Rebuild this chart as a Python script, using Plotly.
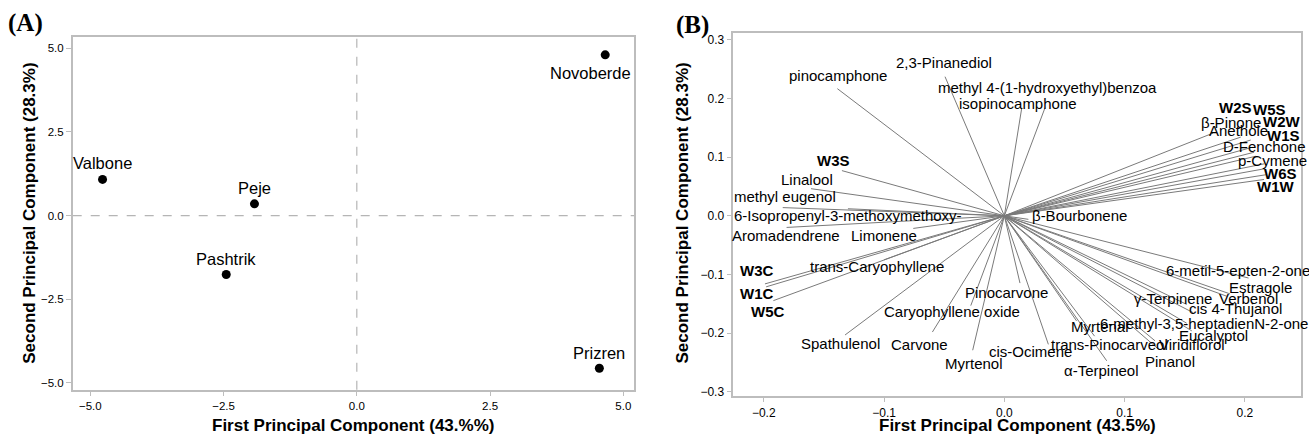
import plotly.graph_objects as go

# ---------------- data ----------------
# Panel A: site scores
sites = ["Novoberde", "Valbone", "Peje", "Pashtrik", "Prizren"]
pc1_scores = [4.66, -4.77, -1.92, -2.45, 4.55]
pc2_scores = [4.80, 1.08, 0.35, -1.76, -4.56]

# Panel B: variable loadings
variables = [
    "pinocamphone", "2,3-Pinanediol", "methyl 4-(1-hydroxyethyl)benzoa", "isopinocamphone",
    "W3S", "Linalool", "methyl eugenol", "6-Isopropenyl-3-methoxymethoxy-",
    "Aromadendrene", "Limonene", "trans-Caryophyllene", "W3C", "W1C", "W5C",
    "Spathulenol", "Carvone", "Caryophyllene oxide", "Myrtenol", "Pinocarvone",
    "cis-Ocimene", "Myrtenal", "trans-Pinocarveol", "α-Terpineol", "Pinanol",
    "Viridiflorol", "Eucalyptol", "6-methyl-3,5-heptadienN-2-one", "cis 4-Thujanol",
    "γ-Terpinene", "Verbenol", "Estragole", "6-metil-5-epten-2-one", "β-Bourbonene",
    "β-Pinone", "Anethole", "W2S", "W5S", "W2W", "W1S", "D-Fenchone", "p-Cymene",
    "W6S", "W1W",
]
pc1_loadings = [
    -0.1388, -0.0493, 0.0338, 0.0145,
    -0.135, -0.1607, -0.1842, -0.130,
    -0.181, -0.0757, -0.100, -0.199, -0.198, -0.192,
    -0.1324, -0.0598, -0.0279, -0.0263, 0.013,
    0.0366, 0.060, 0.075, 0.0851, 0.128,
    0.1253, 0.1558, 0.1516, 0.157,
    0.1516, 0.1849, 0.1876, 0.203, 0.020,
    0.1735, 0.1965, 0.2048, 0.2062, 0.2076, 0.2090, 0.2159, 0.2159,
    0.2173, 0.2159,
]
pc2_loadings = [
    0.2166, 0.237, 0.184, 0.184,
    0.077, 0.0462, 0.014, 0.012,
    -0.0198, -0.0215, -0.075, -0.116, -0.121, -0.1445,
    -0.203, -0.198, -0.153, -0.229, -0.1146,
    -0.219, -0.179, -0.205, -0.247, -0.227,
    -0.213, -0.196, -0.183, -0.165,
    -0.151, -0.137, -0.133, -0.106, -0.006,
    0.1409, 0.1340, 0.1291, 0.1168, 0.1083, 0.1015, 0.0885, 0.0800,
    0.0699, 0.0619,
]

# ---------------- styling / label placement (pixels) ----------------
A_LABEL_SHIFT = {"Novoberde": (-15, -18), "Valbone": (0, 16), "Peje": (0, 16),
                 "Pashtrik": (0, 15), "Prizren": (0, 15)}
B_LABEL_SHIFT = {
    "pinocamphone": (1, 13), "2,3-Pinanediol": (-1, 14),
    "methyl 4-(1-hydroxyethyl)benzoa": (2, 20), "isopinocamphone": (-4, 4),
    "W3S": (-8, 10), "Linalool": (-4, 9), "methyl eugenol": (2, 11),
    "6-Isopropenyl-3-methoxymethoxy-": (0, -7), "Aromadendrene": (-1, -8),
    "Limonene": (-29, -7), "trans-Caryophyllene": (-7, -7), "W3C": (-8, 13),
    "W1C": (-9, -7), "W5C": (-5, -11), "Spathulenol": (-5, -9),
    "Carvone": (-13, -12), "Caryophyllene oxide": (-19, -6), "Myrtenol": (1, -13),
    "Pinocarvone": (-13, -9), "cis-Ocimene": (-18, -7), "Myrtenal": (23, -6),
    "trans-Pinocarveol": (15, -8), "α-Terpineol": (-5, -10), "Pinanol": (12, -12),
    "Viridiflorol": (37, -4), "Eucalyptol": (22, -5),
    "6-methyl-3,5-heptadienN-2-one": (17, 0), "cis 4-Thujanol": (42, 4),
    "γ-Terpinene": (-14, 6), "Verbenol": (22, -2), "Estragole": (30, 6),
    "6-metil-5-epten-2-one": (-11, 8), "β-Bourbonene": (51, 4),
    "β-Pinone": (18, 11), "Anethole": (-2, 7), "W2S": (-15, 33), "W5S": (17, 38),
    "W2W": (28, 31), "W1S": (28, 21), "D-Fenchone": (0, 17), "p-Cymene": (8, 8),
    "W6S": (15, 1), "W1W": (12, -7),
}

FONT = "Liberation Sans, Arial, sans-serif"
SERIF = "Liberation Serif, Times New Roman, serif"
FRAME = "#bdbdbd"
W, H = 1309, 444

fig = go.Figure()

# Panel A points
fig.add_trace(go.Scatter(
    x=pc1_scores, y=pc2_scores, mode="markers",
    marker=dict(color="black", size=9),
    xaxis="x", yaxis="y", showlegend=False, hoverinfo="skip",
))

# Panel B loading vectors
lx, ly = [], []
for vx, vy in zip(pc1_loadings, pc2_loadings):
    lx += [0, vx, None]
    ly += [0, vy, None]
fig.add_trace(go.Scatter(
    x=lx, y=ly, mode="lines", line=dict(color="#7a7a7a", width=1),
    xaxis="x2", yaxis="y2", showlegend=False, hoverinfo="skip",
))

annotations = []
for name, sx, sy in zip(sites, pc1_scores, pc2_scores):
    dx, dy = A_LABEL_SHIFT[name]
    annotations.append(dict(x=sx, y=sy, xref="x", yref="y", text=name, showarrow=False,
                            xanchor="center", yanchor="middle",
                            xshift=dx, yshift=dy, font=dict(family=FONT, size=16.5, color="black")))
for name, vx, vy in zip(variables, pc1_loadings, pc2_loadings):
    dx, dy = B_LABEL_SHIFT[name]
    bold = name.startswith("W") and len(name) == 3
    annotations.append(dict(x=vx, y=vy, xref="x2", yref="y2",
                            text=f"<b>{name}</b>" if bold else name, showarrow=False,
                            xanchor="center", yanchor="middle",
                            xshift=dx, yshift=dy,
                            font=dict(family=FONT, size=15, color="black")))

def px_x(p):
    return p / W

def px_y(p):
    return 1 - p / H

def paper_text(x, y, text, font, angle=0):
    return dict(x=px_x(x), y=px_y(y), xref="paper", yref="paper", text=text,
                showarrow=False, xanchor="center", yanchor="middle", textangle=angle,
                font=font)

bold_title = dict(family=FONT, size=17, color="black")
letter_font = dict(family=SERIF, size=25, color="black")
annotations += [
    paper_text(25, 23, "<b>(A)</b>", letter_font),
    paper_text(692.5, 25, "<b>(B)</b>", letter_font),
    paper_text(353, 428.5, "<b>First Principal Component (43.%%)</b>", bold_title),
    paper_text(28.7, 214.5, "<b>Second Principal Component (28.3%)</b>", bold_title, -90),
    paper_text(1017, 428, "<b>First Principal Component (43.5%)</b>", bold_title),
    paper_text(683, 215, "<b>Second Principal Component (28.3%)</b>", bold_title, -90),
]

axis_common = dict(showline=True, linecolor=FRAME, linewidth=1.5, mirror=True,
                   showgrid=False, zeroline=False, ticks="outside", ticklen=5,
                   tickcolor=FRAME, tickwidth=1, tickformat=".1f")

fig.update_layout(
    width=W, height=H, margin=dict(l=0, r=0, t=0, b=0),
    paper_bgcolor="white", plot_bgcolor="white",
    xaxis=dict(domain=[72.7 / W, 634 / W], range=[-5.33, 5.20], dtick=2.5, tick0=0,
               anchor="y", tickfont=dict(family=FONT, size=11.5, color="black"), **axis_common),
    yaxis=dict(domain=[1 - 392.3 / H, 1 - 37.7 / H], range=[-5.20, 5.32], dtick=2.5, tick0=0,
               anchor="x", tickfont=dict(family=FONT, size=11.5, color="black"), **axis_common),
    xaxis2=dict(domain=[733.3 / W, 1301 / W], range=[-0.2253, 0.2466], dtick=0.1, tick0=0,
                anchor="y2", tickfont=dict(family=FONT, size=12, color="black"), **axis_common),
    yaxis2=dict(domain=[1 - 398.3 / H, 1 - 33.3 / H], range=[-0.3063, 0.3113], dtick=0.1, tick0=0,
                anchor="x2", tickfont=dict(family=FONT, size=12, color="black"), **axis_common),
    annotations=annotations,
    shapes=[
        dict(type="line", xref="x", yref="y domain", x0=0, x1=0, y0=0, y1=1,
             line=dict(color="#b5b5b5", width=1.2, dash="dash"), layer="below"),
        dict(type="line", xref="x domain", yref="y", x0=0, x1=1, y0=0, y1=0,
             line=dict(color="#b5b5b5", width=1.2, dash="dash"), layer="below"),
    ],
)

fig.write_html("out.html")
